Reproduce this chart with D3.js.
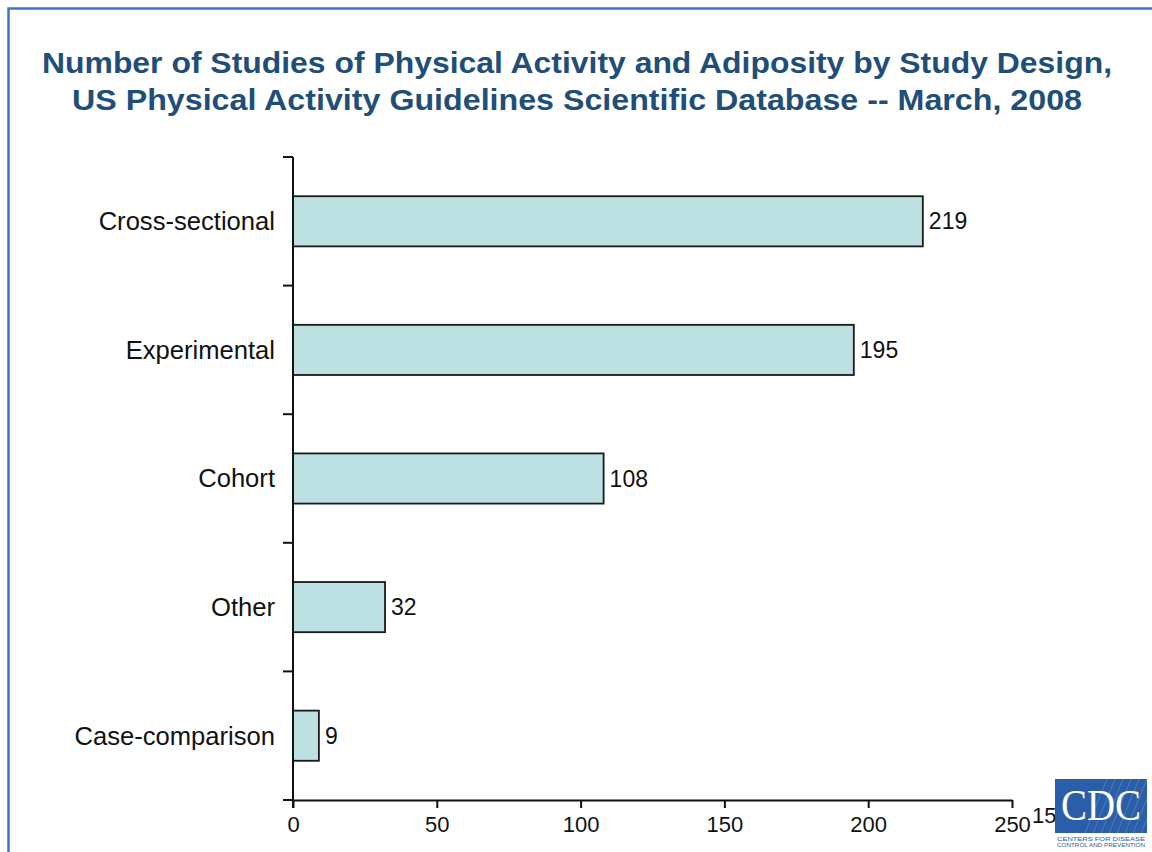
<!DOCTYPE html>
<html>
<head>
<meta charset="utf-8">
<script src="https://cdn.jsdelivr.net/npm/d3@7"></script>
<style>
  html, body { margin: 0; padding: 0; background: #fff; }
  svg { display: block; }
</style>
</head>
<body>
<svg id="chart" width="1152" height="852"></svg>
<script>
// Study design categories (top to bottom) and number of studies
const categories = ["Cross-sectional", "Experimental", "Cohort", "Other", "Case-comparison"];
const studyCounts = [219, 195, 108, 32, 9];
const xTicks = [0, 50, 100, 150, 200, 250];
const titleLines = [
  "Number of Studies of Physical Activity and Adiposity by Study Design,",
  "US Physical Activity Guidelines Scientific Database -- March, 2008"
];

const svg = d3.select("#chart");
const W = 1152, H = 852;
const font = "'Liberation Sans', Arial, Helvetica, sans-serif";

// slide frame (left and top rule)
svg.append("path")
  .attr("d", `M8.5,${H} V8.5 H${W}`)
  .attr("fill", "none")
  .attr("stroke", "#4472c4")
  .attr("stroke-width", 2.5);

// title
const titleWidths = [1070, 1010];
svg.append("g").selectAll("text")
  .data(titleLines)
  .join("text")
  .attr("x", 577)
  .attr("y", (d, i) => 73 + i * 37)
  .attr("text-anchor", "middle")
  .attr("font-family", font)
  .attr("font-weight", "bold")
  .attr("font-size", 29)
  .attr("textLength", (d, i) => titleWidths[i])
  .attr("lengthAdjust", "spacingAndGlyphs")
  .attr("fill", "#1f4e79")
  .text(d => d);

const plot = { left: 293, right: 1012, top: 157, bottom: 800 };

const x = d3.scaleLinear().domain([0, 250]).range([plot.left, plot.right]);
const y = d3.scaleBand().domain(categories).range([plot.top, plot.bottom]).paddingInner(0.61).paddingOuter(0.305);

const data = categories.map((c, i) => ({ cat: c, value: studyCounts[i] }));

// bars
svg.append("g").selectAll("rect")
  .data(data)
  .join("rect")
  .attr("x", x(0))
  .attr("y", d => y(d.cat))
  .attr("width", d => x(d.value) - x(0))
  .attr("height", y.bandwidth())
  .attr("fill", "#bde0e3")
  .attr("stroke", "#1a1a1a")
  .attr("stroke-width", 1.8);

// value labels
svg.append("g").selectAll("text")
  .data(data)
  .join("text")
  .attr("x", d => x(d.value) + 6)
  .attr("y", d => y(d.cat) + y.bandwidth() / 2)
  .attr("dy", "0.35em")
  .attr("font-family", font)
  .attr("font-size", 23)
  .attr("fill", "#111")
  .text(d => d.value);

// category labels
svg.append("g").selectAll("text")
  .data(data)
  .join("text")
  .attr("x", 275)
  .attr("y", d => y(d.cat) + y.bandwidth() / 2)
  .attr("dy", "0.35em")
  .attr("text-anchor", "end")
  .attr("font-family", font)
  .attr("font-size", 25.6)
  .attr("fill", "#111")
  .text(d => d.cat);

// y axis: spine with ticks at category boundaries
const yAxis = svg.append("g");
yAxis.append("line")
  .attr("x1", plot.left).attr("x2", plot.left)
  .attr("y1", plot.top).attr("y2", plot.bottom + 8)
  .attr("stroke", "#111").attr("stroke-width", 2);
const boundaries = d3.range(categories.length + 1).map(i => plot.top + i * y.step());
yAxis.selectAll("line.tick")
  .data(boundaries)
  .join("line")
  .attr("class", "tick")
  .attr("x1", plot.left - 10).attr("x2", plot.left)
  .attr("y1", d => d).attr("y2", d => d)
  .attr("stroke", "#111").attr("stroke-width", 2);

// x axis
const xAxis = svg.append("g")
  .attr("transform", `translate(0,${plot.bottom})`)
  .call(d3.axisBottom(x).tickValues(xTicks).tickSize(8).tickPadding(8).tickSizeOuter(0));
xAxis.select(".domain").attr("stroke", "#111").attr("stroke-width", 2);
xAxis.selectAll(".tick line").attr("stroke", "#111").attr("stroke-width", 2);
xAxis.selectAll(".tick text")
  .attr("font-family", font)
  .attr("font-size", 22)
  .attr("fill", "#111");

// page number
svg.append("text")
  .attr("x", 1032).attr("y", 823)
  .attr("font-family", font)
  .attr("font-size", 22)
  .attr("fill", "#111")
  .text("15");

// CDC logo block
const logo = svg.append("g").attr("transform", "translate(1055,779)");
logo.append("rect")
  .attr("width", 92).attr("height", 54)
  .attr("fill", "#2a5ea8");
logo.append("g").selectAll("line")
  .data(d3.range(9))
  .join("line")
  .attr("x1", d => 30 + d * 8).attr("y1", 54)
  .attr("x2", d => 52 + d * 8).attr("y2", 0)
  .attr("stroke", "#ffffff").attr("stroke-opacity", 0.18).attr("stroke-width", 1);
logo.append("text")
  .attr("x", 46).attr("y", 41)
  .attr("text-anchor", "middle")
  .attr("font-family", "'Liberation Serif', 'Times New Roman', serif")
  .attr("font-size", 44)
  .attr("fill", "#ffffff")
  .attr("textLength", 80)
  .attr("lengthAdjust", "spacingAndGlyphs")
  .text("CDC");
logo.append("g").selectAll("text")
  .data(["CENTERS FOR DISEASE", "CONTROL AND PREVENTION"])
  .join("text")
  .attr("x", 46)
  .attr("y", (d, i) => 62 + i * 6)
  .attr("text-anchor", "middle")
  .attr("font-family", font)
  .attr("font-size", 5)
  .attr("fill", "#2a5ea8")
  .attr("textLength", 88)
  .attr("lengthAdjust", "spacingAndGlyphs")
  .text(d => d);
</script>
</body>
</html>
